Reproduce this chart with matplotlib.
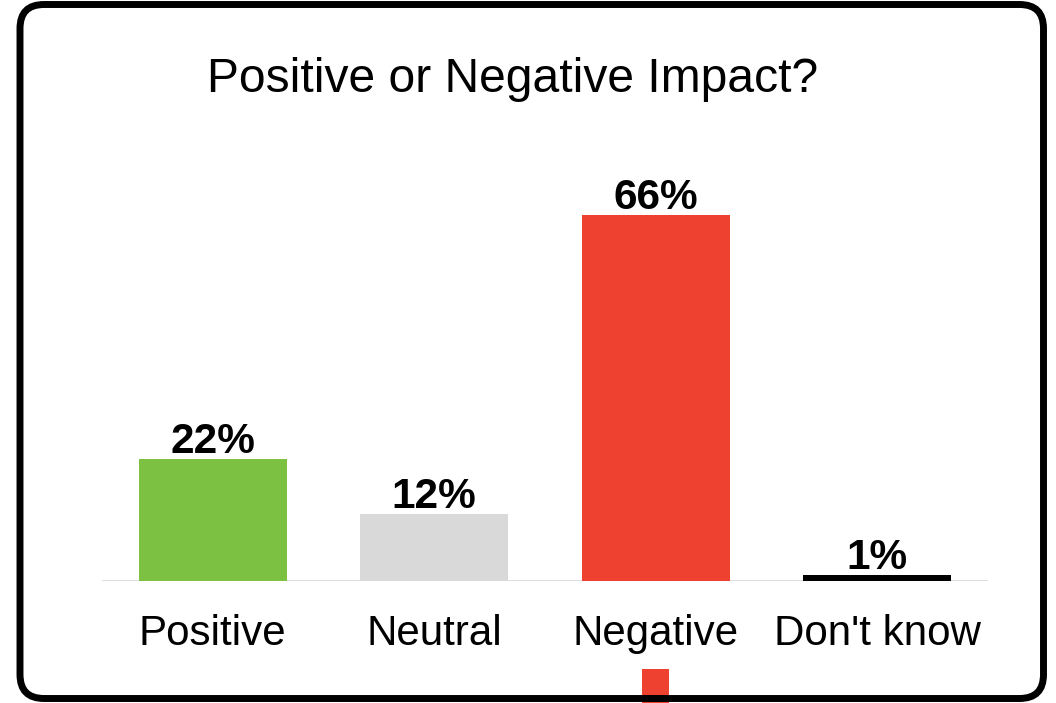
import matplotlib
matplotlib.use("Agg")
import matplotlib.pyplot as plt
from matplotlib.patches import FancyBboxPatch, Rectangle

plt.rcParams['font.family'] = ['Liberation Sans', 'DejaVu Sans']

# -----------------------------
# Data
# -----------------------------
categories = ["Positive", "Neutral", "Negative", "Don't know"]
values = [22, 12, 66, 1]
value_labels = ["22%", "12%", "66%", "1%"]
bar_colors = ["#7dc142", "#d9d9d9", "#ef412f", "#000000"]
title = "Positive or Negative Impact?"

W, H = 1056, 703
fig = plt.figure(figsize=(W / 100, H / 100), dpi=100)

# background layer in pixel units for the frame and the marker square
bg = fig.add_axes([0, 0, 1, 1])
bg.set_xlim(0, W)
bg.set_ylim(H, 0)
bg.axis("off")
bg.add_patch(Rectangle((642, 669), 27, 40, facecolor="#ef412f",
                       edgecolor="none", zorder=1))
bg.add_patch(FancyBboxPatch((20, 4.5), 1043.5 - 20, 698.5 - 4.5,
                            boxstyle="round,pad=0,rounding_size=24",
                            facecolor="none", edgecolor="black",
                            linewidth=5, zorder=2))

# -----------------------------
# Bars
# -----------------------------
ax = fig.add_axes([102 / W, (H - 581) / H, 886 / W, 388.15 / H])
ax.patch.set_alpha(0)
x = range(len(categories))
ax.bar(x, values, width=0.667, color=bar_colors, zorder=2)
ax.set_xlim(-0.5, 3.5)
ax.set_ylim(0, 70)
ax.axhline(0, color="#d4d4d4", linewidth=1.8, zorder=1)
for s in ax.spines.values():
    s.set_visible(False)
ax.set_xticks([])
ax.set_yticks([])

for i, (v, lab) in enumerate(zip(values, value_labels)):
    ax.annotate(lab, xy=(i, v), xytext=(0, 4.3), textcoords="offset points",
                ha="center", va="baseline", fontsize=30.5, fontweight="bold")
    ax.annotate(categories[i], xy=(i, 0), xycoords=("data", "data"),
                xytext=(0, -46.1), textcoords="offset points",
                ha="center", va="baseline", fontsize=30.3)

fig.text(512.5 / W, (H - 92) / H, title, ha="center", va="baseline",
         fontsize=34.6)

fig.savefig("out.png", dpi=100)
